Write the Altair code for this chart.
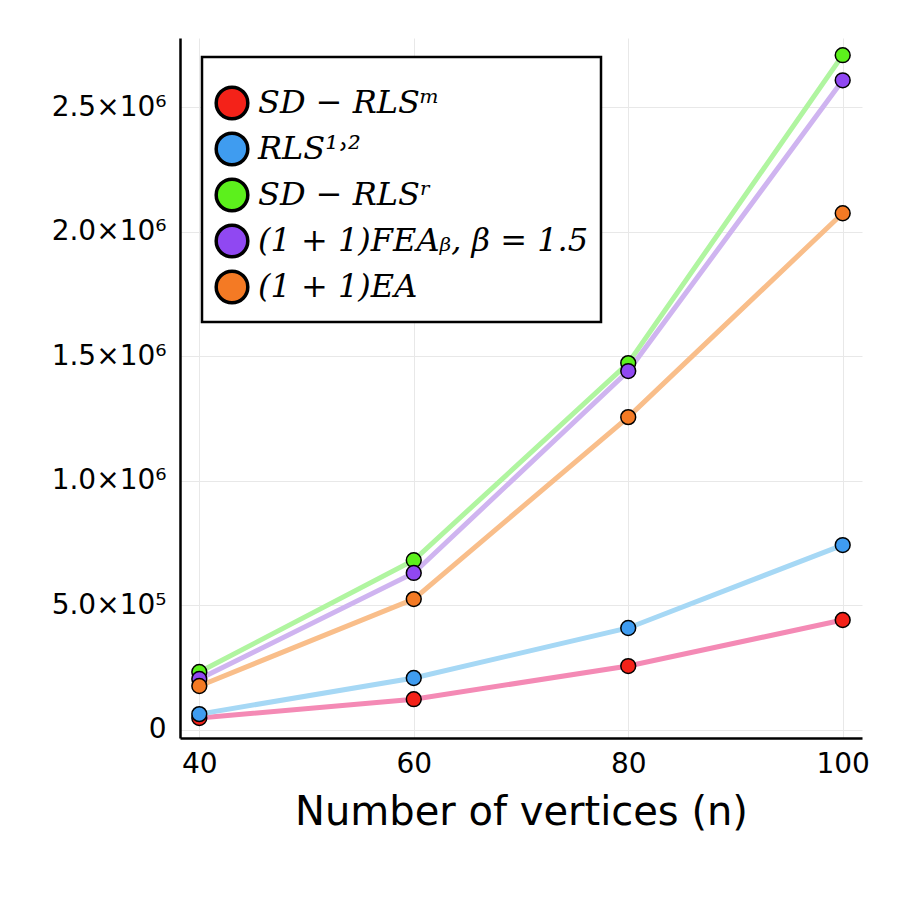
import altair as alt
import pandas as pd

n_values = [40, 60, 80, 100]
series_names = ["SD − RLSᵐ", "RLS¹˒²", "SD − RLSʳ", "(1 + 1)FEAᵦ, β = 1.5", "(1 + 1)EA"]
sd_rls_m = [46000, 122000, 255000, 440000]
rls_12 = [62000, 207000, 408000, 741000]
sd_rls_r = [231000, 680000, 1472000, 2709000]
fea_beta = [203000, 629000, 1440000, 2608000]
ea_11 = [175000, 524000, 1255000, 2074000]
all_values = [sd_rls_m, rls_12, sd_rls_r, fea_beta, ea_11]

point_colors = ["#f42219", "#3f9cf0", "#5cf01c", "#9048f2", "#f47a24"]
line_colors = ["#f48ab5", "#a6d8f5", "#b0f5a0", "#cfb4f0", "#f9be8a"]

y_ticks = [0, 500000, 1000000, 1500000, 2000000, 2500000]
y_tick_labels = ["0", "5.0×10⁵", "1.0×10⁶", "1.5×10⁶", "2.0×10⁶", "2.5×10⁶"]
x_ticks = [40, 60, 80, 100]

rows = []
for name, vals in zip(series_names, all_values):
    for n, v in zip(n_values, vals):
        rows.append({"n": n, "value": v, "series": name})
df = pd.DataFrame(rows)

label_expr = " : ".join(
    [f"datum.value == {t} ? '{l}'" for t, l in zip(y_ticks, y_tick_labels)]
) + " : ''"

x_enc = alt.X(
    "n:Q",
    scale=alt.Scale(domain=[38.2, 101.8], nice=False, zero=False),
    axis=alt.Axis(
        values=x_ticks, title="Number of vertices (n)", labelFontSize=28,
        titleFontSize=40, titleFontWeight="normal", labelPadding=12, titlePadding=14,
        ticks=False, domainColor="black", domainWidth=2.5, gridColor="#e8e8e8",
        labelColor="black", titleColor="black", labelFont="DejaVu Sans",
        titleFont="DejaVu Sans",
    ),
)
y_enc = alt.Y(
    "value:Q",
    scale=alt.Scale(domain=[-34000, 2778000], nice=False, zero=False),
    axis=alt.Axis(
        values=y_ticks, labelExpr=label_expr, title=None, labelFontSize=28,
        ticks=False, labelPadding=14, domainColor="black", domainWidth=2.5,
        gridColor="#e8e8e8", labelColor="black", labelFont="DejaVu Sans",
    ),
)

lines = alt.Chart(df).mark_line(strokeWidth=5).encode(
    x=x_enc, y=y_enc,
    stroke=alt.Stroke("series:N", scale=alt.Scale(domain=series_names, range=line_colors), legend=None),
    detail="series:N",
)

points = alt.Chart(df).mark_point(filled=True, size=220, stroke="black", strokeWidth=1.5, opacity=1, shape="circle").encode(
    x=x_enc, y=y_enc,
    fill=alt.Fill(
        "series:N",
        scale=alt.Scale(domain=series_names, range=point_colors),
        sort=series_names,
        legend=alt.Legend(
            title=" ", titleFontSize=16, titlePadding=0,
            orient="none", legendX=22, legendY=19,
            symbolType="circle", symbolSize=1000, symbolStrokeColor="black",
            symbolStrokeWidth=3.5, symbolOpacity=1,
            labelFont="DejaVu Serif", labelFontStyle="italic", labelFontSize=32,
            labelColor="black", rowPadding=0, labelOffset=8, labelLimit=420,
            strokeColor="black", fillColor="white", padding=12,
            cornerRadius=0,
        ),
    ),
)

chart = alt.layer(lines, points).resolve_scale(
    stroke="independent", fill="independent"
).resolve_legend(stroke="independent", fill="independent").properties(
    width=682, height=700,
    padding={"left": 172, "top": 30, "right": 29, "bottom": 153},
    autosize=alt.AutoSizeParams(type="none"),
    background="white",
).configure_view(stroke=None).configure_legend(strokeWidth=2.5)

chart.save("out.html", embed_options={"renderer": "svg", "actions": False})
